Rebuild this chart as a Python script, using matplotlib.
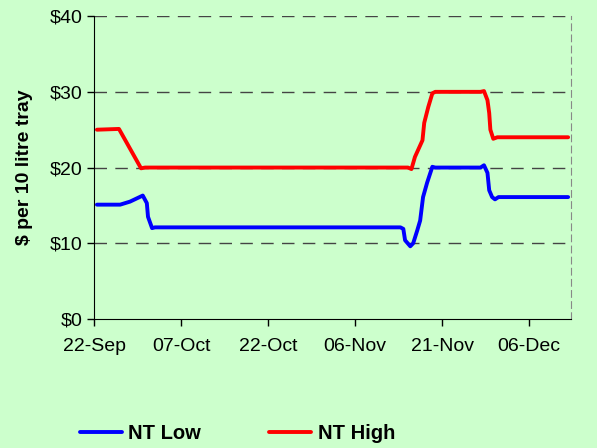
import pandas as pd
import matplotlib.pyplot as plt
import matplotlib.dates as mdates

## data =======================================================================
start = pd.Timestamp('2008-09-22')

# days after 22-Sep, price in $ per 10 litre tray
low_days = [0.5, 4.5, 6.2, 8.4, 9.1, 9.3, 10.0, 10.5, 52.8, 53.3, 53.6, 54.5, 55.0,
            55.7, 56.2, 56.7, 57.4, 58.3, 58.8, 66.6, 67.2, 67.8, 68.1, 68.6, 69.1,
            69.7, 81.7]
low_price = [15.1, 15.1, 15.5, 16.3, 15.3, 13.5, 12.0, 12.1, 12.1, 11.9, 10.4, 9.6, 10.0,
             11.7, 13.0, 16.1, 18.0, 20.1, 20.0, 20.0, 20.3, 19.3, 17.0, 16.1, 15.8,
             16.1, 16.1]

high_days = [0.5, 4.3, 8.1, 8.8, 54.1, 54.7, 55.3, 56.6, 56.9, 57.6, 58.3, 58.8, 66.6,
             67.2, 67.8, 68.1, 68.3, 68.8, 69.5, 81.7]
high_price = [25.0, 25.1, 19.9, 20.0, 20.0, 19.8, 21.4, 23.6, 25.9, 28.0, 29.8, 30.0, 30.0,
              30.1, 28.9, 27.2, 25.0, 23.8, 24.0, 24.0]

tick_days = [0, 15, 30, 45, 60, 75]
y_ticks = [0, 10, 20, 30, 40]
# =============================================================================

bg = '#CCFFCC'
plt.rcParams['font.family'] = ['Liberation Sans', 'DejaVu Sans']

fig = plt.figure(figsize=(5.97, 4.48), dpi=100, facecolor=bg)
ax = fig.add_axes([0.1575, 0.288, 0.799, 0.676], facecolor=bg)

x_low = [start + pd.Timedelta(days=d) for d in low_days]
x_high = [start + pd.Timedelta(days=d) for d in high_days]

ax.plot(x_low, low_price, color='#0000FF', lw=2.8, label='NT Low', solid_capstyle='round')
ax.plot(x_high, high_price, color='#FF0000', lw=2.8, label='NT High', solid_capstyle='round')

ax.set_xlim(start, start + pd.Timedelta(days=82.2))
ax.set_ylim(0, 40)
ax.set_yticks(y_ticks)
ax.set_yticklabels(['$%d' % v for v in y_ticks])
ax.set_xticks([start + pd.Timedelta(days=d) for d in tick_days])
ax.xaxis.set_major_formatter(mdates.DateFormatter('%d-%b'))
ax.tick_params(labelsize=14, direction='out', length=5, width=1)
ax.tick_params(axis='x', pad=9)
ax.tick_params(axis='y', pad=3)

for v in y_ticks[1:]:
    ax.axhline(v, color='#444444', lw=1, ls=(0, (9, 6)), zorder=0)

ax.spines['top'].set_visible(False)
ax.spines['right'].set_color('#888888')
ax.spines['right'].set_linestyle((0, (6, 4)))
ax.spines['left'].set_color('black')
ax.spines['bottom'].set_color('black')

ax.set_ylabel('$ per 10 litre tray', fontsize=14, fontweight='bold', labelpad=12)

leg = fig.legend(loc='lower left', bbox_to_anchor=(0.103, -0.029), ncol=2, frameon=False,
                 prop={'size': 14.5, 'weight': 'bold'}, handlelength=2.1, columnspacing=3.4,
                 handletextpad=0.3)

fig.savefig('out.png', dpi=100, facecolor=bg)
